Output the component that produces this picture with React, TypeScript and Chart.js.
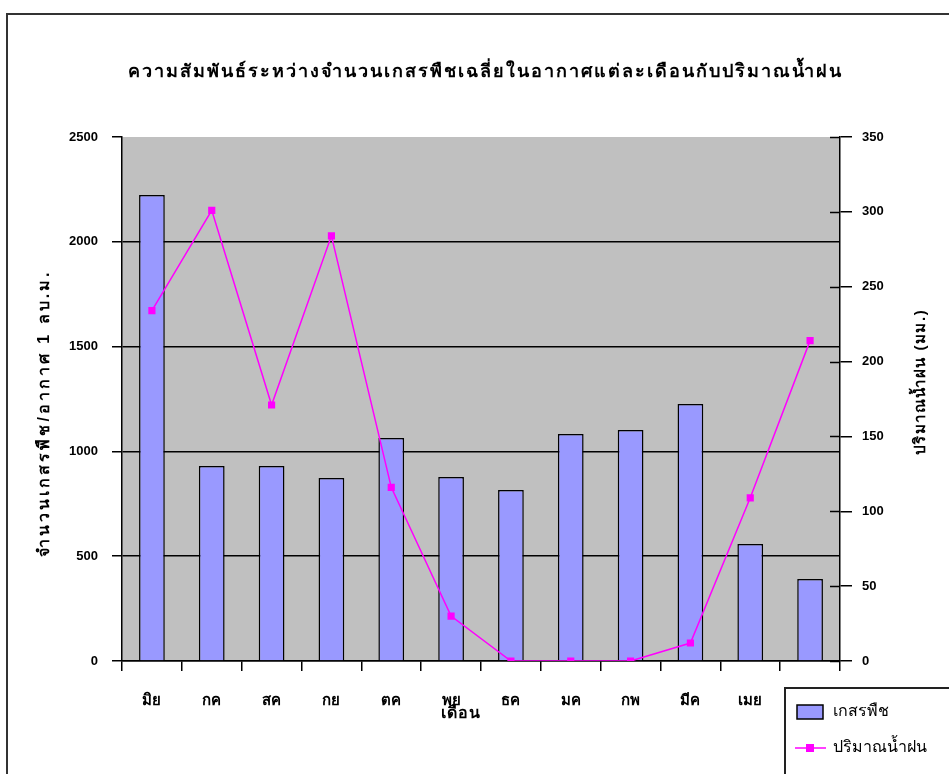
import React, { useEffect, useRef } from "react";
import { Chart, registerables } from "chart.js";

Chart.register(...registerables);

const months = ["มิย", "กค", "สค", "กย", "ตค", "พย", "ธค", "มค", "กพ", "มีค", "เมย", "พค"];
const pollen = [2223, 930, 930, 873, 1064, 878, 816, 1083, 1102, 1226, 558, 391];
const rain = [234, 301, 171, 284, 116, 30, 0, 0, 0, 12, 109, 214];
const leftTicksMax = 2500;
const rightTicksMax = 350;

const chartTitle = "ความสัมพันธ์ระหว่างจำนวนเกสรพืชเฉลี่ยในอากาศแต่ละเดือนกับปริมาณน้ำฝน";
const leftTitle = "จำนวนเกสรพืช/อากาศ 1 ลบ.ม.";
const rightTitle = "ปริมาณน้ำฝน (มม.)";
const xTitle = "เดือน";
const pollenLabel = "เกสรพืช";
const rainLabel = "ปริมาณน้ำฝน";

const FONT = "'Liberation Sans', 'DejaVu Sans', sans-serif";
const BAR_FILL = "#9999FF";
const LINE_COLOR = "#FF00FF";

function spaced(ctx: any, sp: string) {
  try { ctx.letterSpacing = sp; } catch (e) {}
}

const decorPlugin = {
  id: "decor",
  beforeDraw(chart: any) {
    const { ctx, chartArea } = chart;
    ctx.save();
    ctx.fillStyle = "#ffffff";
    ctx.fillRect(0, 0, chart.width, chart.height);
    ctx.fillStyle = "#C0C0C0";
    ctx.fillRect(chartArea.left, chartArea.top, chartArea.right - chartArea.left, chartArea.bottom - chartArea.top);
    ctx.strokeStyle = "#333333";
    ctx.lineWidth = 2;
    ctx.beginPath();
    ctx.moveTo(7, chart.height + 5);
    ctx.lineTo(7, 14);
    ctx.lineTo(chart.width + 5, 14);
    ctx.stroke();
    ctx.restore();
  },
  afterDatasetsDraw(chart: any) {
    const { ctx, chartArea } = chart;
    const y1 = chart.scales.y1;
    ctx.save();
    ctx.strokeStyle = "#000";
    ctx.lineWidth = 1.5;
    y1.ticks.forEach((t: any) => {
      const py = Math.round(y1.getPixelForValue(t.value)) + 0.5;
      ctx.beginPath();
      ctx.moveTo(chartArea.right - 10, py);
      ctx.lineTo(chartArea.right, py);
      ctx.stroke();
    });
    ctx.restore();
  },
  afterDraw(chart: any) {
    const { ctx, chartArea } = chart;
    ctx.save();
    ctx.fillStyle = "#000";
    ctx.textAlign = "center";
    ctx.textBaseline = "middle";
    ctx.font = `bold 18px ${FONT}`;
    spaced(ctx, "2px");
    ctx.fillText(chartTitle, 485, 72);
    ctx.font = `bold 16px ${FONT}`;
    spaced(ctx, "1px");
    ctx.fillText(xTitle, 461, 714);
    const cy = (chartArea.top + chartArea.bottom) / 2;
    ctx.save();
    ctx.font = `bold 16px ${FONT}`;
    spaced(ctx, "3px");
    ctx.translate(45, cy + 14);
    ctx.rotate(-Math.PI / 2);
    ctx.fillText(leftTitle, 0, 0);
    ctx.restore();
    ctx.save();
    ctx.font = `bold 15px ${FONT}`;
    spaced(ctx, "1.5px");
    ctx.translate(921, cy - 17);
    ctx.rotate(-Math.PI / 2);
    ctx.fillText(rightTitle, 0, 0);
    ctx.restore();
    spaced(ctx, "0px");

    const ds = chart.data.datasets;
    const lx = 785, ly = 688;
    ctx.fillStyle = "#fff";
    ctx.fillRect(lx, ly, chart.width - lx + 5, chart.height - ly + 5);
    ctx.strokeStyle = "#222";
    ctx.lineWidth = 2;
    ctx.strokeRect(lx, ly, chart.width - lx + 10, chart.height - ly + 10);
    ctx.fillStyle = BAR_FILL;
    ctx.fillRect(797, 705, 26, 14);
    ctx.strokeStyle = "#000";
    ctx.lineWidth = 1.5;
    ctx.strokeRect(797, 705, 26, 14);
    ctx.fillStyle = "#000";
    ctx.textAlign = "left";
    ctx.font = `16px ${FONT}`;
    ctx.fillText(ds[1].label, 833, 712);
    ctx.strokeStyle = LINE_COLOR;
    ctx.lineWidth = 1.5;
    ctx.beginPath();
    ctx.moveTo(795, 748);
    ctx.lineTo(826, 748);
    ctx.stroke();
    ctx.fillStyle = LINE_COLOR;
    ctx.fillRect(806, 744, 8, 8);
    ctx.fillStyle = "#000";
    ctx.fillText(ds[0].label, 833, 748);
    ctx.restore();
  },
};

export default function App() {
  const canvasRef = useRef<HTMLCanvasElement | null>(null);

  useEffect(() => {
    document.body.style.margin = "0";
    const canvas = canvasRef.current;
    if (!canvas) return;
    const chart = new Chart(canvas, {
      type: "bar",
      data: {
        labels: months,
        datasets: [
          {
            type: "line",
            label: rainLabel,
            data: rain,
            yAxisID: "y1",
            borderColor: LINE_COLOR,
            backgroundColor: LINE_COLOR,
            borderWidth: 1.5,
            pointStyle: "rect",
            pointRadius: 4,
            pointBackgroundColor: LINE_COLOR,
            pointBorderColor: LINE_COLOR,
            tension: 0,
            order: 0,
          } as any,
          {
            type: "bar",
            label: pollenLabel,
            data: pollen,
            yAxisID: "y",
            backgroundColor: BAR_FILL,
            borderColor: "#000",
            borderWidth: 1.5,
            barPercentage: 0.43,
            categoryPercentage: 1,
            order: 1,
          } as any,
        ],
      },
      plugins: [decorPlugin],
      options: {
        responsive: false,
        animation: false,
        devicePixelRatio: 1,
        layout: { padding: { top: 137, left: 0, right: 0, bottom: 0 } },
        plugins: {
          legend: { display: false },
          title: { display: false },
          tooltip: { enabled: false },
        },
        scales: {
          x: {
            afterFit: (s: any) => { s.height = 113; },
            grid: {
              offset: true,
              drawOnChartArea: false,
              drawTicks: true,
              tickLength: 10,
              color: "#000",
              lineWidth: 1.5,
            },
            border: { display: true, color: "#000", width: 1.5 },
            ticks: {
              autoSkip: false,
              maxRotation: 0,
              minRotation: 0,
              padding: 21,
              color: "#000",
              font: { family: FONT, size: 15, weight: "bold" },
            },
          },
          y: {
            position: "left",
            min: 0,
            max: leftTicksMax,
            afterFit: (s: any) => { s.width = 122; },
            grid: {
              color: (c: any) => (c.tick && c.tick.value === leftTicksMax ? "rgba(0,0,0,0)" : "#000"),
              tickColor: "#000",
              lineWidth: 1.5,
              tickLength: 10,
            },
            border: { display: true, color: "#000", width: 1.5 },
            ticks: {
              stepSize: 500,
              padding: 14,
              color: "#000",
              callback: (v: any) => String(v),
              font: { family: FONT, size: 13, weight: "bold" },
            },
          },
          y1: {
            position: "right",
            min: 0,
            max: rightTicksMax,
            afterFit: (s: any) => { s.width = 109; },
            grid: {
              drawOnChartArea: false,
              tickColor: "#000",
              color: "#000",
              lineWidth: 1.5,
              tickLength: 12,
            },
            border: { display: true, color: "#000", width: 1.5 },
            ticks: {
              stepSize: 50,
              padding: 10,
              color: "#000",
              callback: (v: any) => String(v),
              font: { family: FONT, size: 13, weight: "bold" },
            },
          },
        },
      } as any,
    });
    return () => chart.destroy();
  }, []);

  return (
    <div style={{ width: 949, height: 774 }}>
      <canvas ref={canvasRef} width={949} height={774} style={{ display: "block" }} />
    </div>
  );
}
